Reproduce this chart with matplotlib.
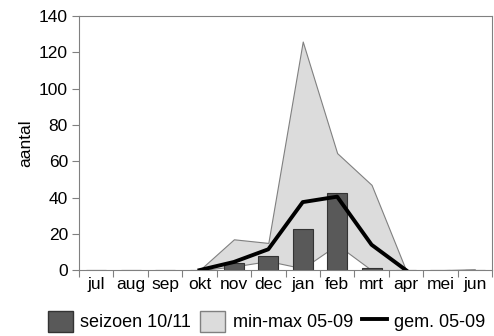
import numpy as np
import matplotlib.pyplot as plt
from matplotlib.patches import Patch
from matplotlib.lines import Line2D

plt.rcParams['font.family'] = ['Liberation Sans', 'DejaVu Sans']

months = ["jul", "aug", "sep", "okt", "nov", "dec", "jan", "feb", "mrt", "apr", "mei", "jun"]
season = [0, 0, 0, 0, 4, 8, 22.5, 42.5, 1, 0, 0, 0]
mm_min = [0, 0, 0, 0, 2, 5, 1, 14, 0, 0, 0, 0]
mm_max = [0, 0, 0, 0, 17, 15, 126, 64.5, 47, 0, 0, 0.5]
mean = [np.nan, np.nan, np.nan, 0, 4.5, 11.5, 37.5, 40.5, 14, 0, np.nan, np.nan]

x = np.arange(len(months))

fig = plt.figure(figsize=(4.94, 3.36), dpi=100)
ax = fig.add_axes([0.16, 0.196, 0.836, 0.756])

ax.fill_between(x, mm_min, mm_max, facecolor="#dcdcdc", edgecolor="#808080", lw=0.8, zorder=1)
ax.bar(x, season, width=0.58, color="#595959", edgecolor="#333333", lw=0.8, zorder=2)
ax.plot(x, mean, color="black", lw=2.8, zorder=3)

ax.set_xlim(-0.5, 11.5)
ax.set_ylim(0, 140)
ax.set_yticks(range(0, 141, 20))
ax.set_xticks(np.arange(-0.5, 12, 1))
ax.set_xticklabels([])
ax.set_xticks(x, minor=True)
ax.set_xticklabels(months, minor=True)
ax.tick_params(axis="x", which="minor", length=0, labelsize=12.5, pad=5)
ax.tick_params(axis="x", which="major", length=5, color="#808080")
ax.tick_params(axis="y", length=5, color="#808080", labelsize=12.5, pad=3)
for s in ax.spines.values():
    s.set_color("#808080")
ax.set_ylabel("aantal", fontsize=12.5, labelpad=4)

handles = [Patch(facecolor="#595959", edgecolor="#333333"),
           Patch(facecolor="#dcdcdc", edgecolor="#808080"),
           Line2D([], [], color="black", lw=2.8)]
fig.legend(handles, ["seizoen 10/11", "min-max 05-09", "gem. 05-09"],
           loc="lower center", bbox_to_anchor=(0.54, -0.035), ncol=3, frameon=False,
           fontsize=13, handlelength=1.4, handleheight=1.4, handletextpad=0.4,
           columnspacing=0.5)

fig.savefig("out.png", dpi=100)
